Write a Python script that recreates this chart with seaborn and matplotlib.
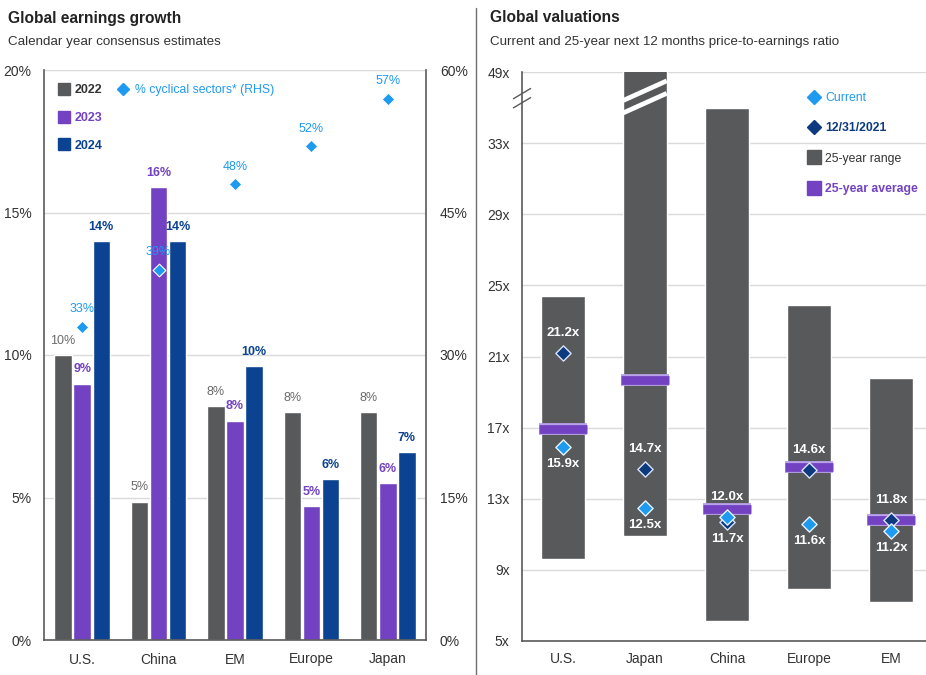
import numpy as np
import pandas as pd
import matplotlib
matplotlib.use("Agg")
import matplotlib.pyplot as plt
from matplotlib.lines import Line2D
import seaborn as sns

# ---------------- data ----------------
# Global earnings growth, calendar-year consensus estimates (%)
eg_regions = ["U.S.", "China", "EM", "Europe", "Japan"]
eg_years = ["2022", "2023", "2024"]
growth_2022 = [10.0, 4.85, 8.2, 8.0, 8.0]
growth_2023 = [9.0, 15.9, 7.7, 4.7, 5.5]
growth_2024 = [14.0, 14.0, 9.6, 5.65, 6.6]
cyclical_share = [33, 39, 48, 52, 57]          # % cyclical sectors (RHS)
eg_left_ticks = [0, 5, 10, 15, 20]
eg_right_ticks = [0, 15, 30, 45, 60]

# Global valuations, next-12-months P/E
pe_regions = ["U.S.", "Japan", "China", "Europe", "EM"]
pe_current = [15.9, 12.5, 12.0, 11.6, 11.2]
pe_dec2021 = [21.2, 14.7, 11.7, 14.6, 11.8]
pe_average = [16.9, 19.7, 12.4, 14.8, 11.8]
pe_low = [9.6, 10.9, 6.1, 7.9, 7.2]
pe_high = [24.4, 49.0, 35.0, 23.9, 19.8]
pe_tick_labels = ["5x", "9x", "13x", "17x", "21x", "25x", "29x", "33x", "49x"]
pe_tick_pos = [5, 9, 13, 17, 21, 25, 29, 33, 37]   # axis is broken above 33x
PE_AXIS_TOP = 37

# ---------------- style ----------------
GRAY = "#58595b"
PURPLE = "#7242c2"
LAVENDER = "#b9a2ea"
NAVY = "#0b4291"
DIAMOND_NAVY = "#0d3a7e"
LBLUE = "#1e9af0"
LABEL_GRAY = "#6a6a6a"
GRID = "#dadada"
SPINE = "#5a5a5a"
TEXT = "#333333"

sns.set_theme(style="white")
plt.rcParams["font.family"] = ["Liberation Sans Narrow", "Liberation Sans", "DejaVu Sans"]
plt.rcParams["text.color"] = TEXT

W, H = 926, 675
fig = plt.figure(figsize=(W / 100, H / 100), dpi=100)
fig.patch.set_facecolor("white")


def fx(px):
    return px / W


def fy(py):
    return 1 - py / H


# ================= left panel: earnings growth =================
ax1 = fig.add_axes([fx(44), fy(640), fx(426) - fx(44), fy(70) - fy(640)])

df = pd.DataFrame({
    "region": eg_regions * 3,
    "year": [y for y in eg_years for _ in eg_regions],
    "growth": growth_2022 + growth_2023 + growth_2024,
})
sns.barplot(data=df, x="region", y="growth", hue="year",
            palette=[GRAY, PURPLE, NAVY], width=0.75, gap=0.08,
            saturation=1, errorbar=None, legend=False, ax=ax1, zorder=2)

label_styles = [(LABEL_GRAY, "normal"), (PURPLE, "bold"), (NAVY, "bold")]
for cont, vals, (col, wt) in zip(ax1.containers,
                                 [growth_2022, growth_2023, growth_2024],
                                 label_styles):
    ax1.bar_label(cont, labels=[f"{v:.0f}%" for v in vals], padding=6,
                  color=col, fontsize=9, fontweight=wt)

ax1.set_ylim(0, 20)
ax1.set_yticks(eg_left_ticks)
ax1.set_yticklabels([f"{t}%" for t in eg_left_ticks])
ax1.yaxis.grid(True, color=GRID, lw=1)
ax1.set_axisbelow(True)
ax1.set_xlim(-0.5, len(eg_regions) - 0.5)
ax1.set_xticks(np.arange(-0.5, len(eg_regions), 1))
ax1.set_xticklabels([])
ax1.set_xticks(np.arange(len(eg_regions)), minor=True)
ax1.set_xticklabels(eg_regions, minor=True)
ax1.tick_params(axis="x", which="major", length=5, width=1, color=SPINE, direction="out")
ax1.tick_params(axis="x", which="minor", length=0, pad=9, labelsize=10, labelcolor=TEXT)
ax1.tick_params(axis="y", length=0, pad=9, labelsize=10, labelcolor=TEXT)
ax1.set_xlabel("")
ax1.set_ylabel("")
for side in ["left", "right", "bottom"]:
    ax1.spines[side].set_color(SPINE)
    ax1.spines[side].set_linewidth(1.2)
ax1.spines["top"].set_visible(False)

ax1r = ax1.twinx()
ax1r.set_ylim(0, 60)
ax1r.set_yticks(eg_right_ticks)
ax1r.set_yticklabels([f"{t}%" for t in eg_right_ticks])
ax1r.tick_params(axis="y", length=0, pad=10, labelsize=10, labelcolor=TEXT)
for side in ["left", "right", "bottom", "top"]:
    ax1r.spines[side].set_visible(False)
xs_eg = np.arange(len(eg_regions))
sns.scatterplot(x=xs_eg, y=cyclical_share, marker="D", s=42, color=LBLUE,
                edgecolor="white", linewidth=0.8, ax=ax1r, zorder=5, legend=False)
for x, v in zip(xs_eg, cyclical_share):
    ax1r.annotate(f"{v}%", (x, v), xytext=(0, 8), textcoords="offset points",
                  ha="center", va="bottom", color=LBLUE, fontsize=9)
ax1r.set_xlim(-0.5, len(eg_regions) - 0.5)

year_handles = [Line2D([], [], ls="none", marker="s", markersize=9, color=c, label=y)
                for c, y in zip([GRAY, PURPLE, NAVY], eg_years)]
leg_years = fig.legend(handles=year_handles, loc="upper left",
                       bbox_to_anchor=(fx(58), fy(84)), frameon=False,
                       fontsize=9, handlelength=0.9, handletextpad=0.45,
                       labelspacing=1.27, borderaxespad=0, borderpad=0)
for t, c in zip(leg_years.get_texts(), [TEXT, PURPLE, NAVY]):
    t.set_color(c)
    t.set_fontweight("bold")
cyc_handle = [Line2D([], [], ls="none", marker="D", markersize=6.5, color=LBLUE,
                     label="% cyclical sectors* (RHS)")]
leg_cyc = fig.legend(handles=cyc_handle, loc="upper left",
                     bbox_to_anchor=(fx(117), fy(84)), frameon=False,
                     fontsize=8.8, handlelength=0.9, handletextpad=0.55,
                     borderaxespad=0, borderpad=0, labelcolor=LBLUE)

# ================= right panel: valuations =================
ax2 = fig.add_axes([fx(522), fy(641), 410 / W, fy(72) - fy(641)])
xs_pe = np.arange(len(pe_regions))
bar_w = 0.53
lo = np.array(pe_low)
hi = np.array(pe_high)
ax2.bar(xs_pe, hi - lo, bottom=lo, width=bar_w, color=GRAY, zorder=2)

ax2.hlines(pe_average, xs_pe - 0.295, xs_pe + 0.295, colors=LAVENDER, lw=8.5,
           capstyle="butt", zorder=3)
ax2.hlines(pe_average, xs_pe - 0.29, xs_pe + 0.29, colors=PURPLE, lw=6.3,
           capstyle="butt", zorder=4)

sns.scatterplot(x=xs_pe, y=pe_dec2021, marker="D", s=60, color=DIAMOND_NAVY,
                edgecolor="#d8e4f6", linewidth=1.0, ax=ax2, zorder=5, legend=False)
sns.scatterplot(x=xs_pe, y=pe_current, marker="D", s=60, color=LBLUE,
                edgecolor="#e8f4ff", linewidth=1.0, ax=ax2, zorder=6, legend=False)

for x, cur, old in zip(xs_pe, pe_current, pe_dec2021):
    top, bot = max(cur, old), min(cur, old)
    ax2.annotate(f"{top:.1f}x", (x, top), xytext=(0, 10), textcoords="offset points",
                 ha="center", va="bottom", color="white", fontsize=9.5,
                 fontweight="bold", zorder=7)
    ax2.annotate(f"{bot:.1f}x", (x, bot), xytext=(0, -8), textcoords="offset points",
                 ha="center", va="top", color="white", fontsize=9.5,
                 fontweight="bold", zorder=7)

ax2.set_ylim(5, PE_AXIS_TOP)
ax2.set_yticks(pe_tick_pos)
ax2.set_yticklabels(pe_tick_labels)
ax2.yaxis.grid(True, color=GRID, lw=1)
ax2.set_axisbelow(True)
ax2.set_xlim(-0.5, len(pe_regions) - 0.5)
ax2.set_xticks(np.arange(-0.5, len(pe_regions), 1))
ax2.set_xticklabels([])
ax2.set_xticks(xs_pe, minor=True)
ax2.set_xticklabels(pe_regions, minor=True)
ax2.tick_params(axis="x", which="major", length=5, width=1, color=SPINE, direction="out")
ax2.tick_params(axis="x", which="minor", length=0, pad=8, labelsize=10, labelcolor=TEXT)
ax2.tick_params(axis="y", length=0, pad=9, labelsize=10, labelcolor=TEXT)
for side in ["left", "bottom"]:
    ax2.spines[side].set_color(SPINE)
    ax2.spines[side].set_linewidth(1.2)
ax2.spines["top"].set_visible(False)
ax2.spines["right"].set_visible(False)

# break marks: across the tall Japan bar and on the y axis
j = pe_regions.index("Japan")
for y0 in (34.7, 35.4):
    ax2.plot([j - bar_w / 2, j + bar_w / 2], [y0, y0 + 1.1], color="white",
             lw=3.4, solid_capstyle="butt", zorder=3)
ytr = ax2.transAxes
ya = 0.954
for dy in (-0.008, 0.008):
    ax2.plot([-0.021, 0.021], [ya + dy - 0.009, ya + dy + 0.009], color=SPINE,
             lw=1, transform=ytr, clip_on=False, zorder=9)

val_handles = [
    Line2D([], [], ls="none", marker="D", markersize=7, color=LBLUE, label="Current"),
    Line2D([], [], ls="none", marker="D", markersize=7, color=DIAMOND_NAVY, label="12/31/2021"),
    Line2D([], [], ls="none", marker="s", markersize=9.5, color=GRAY, label="25-year range"),
    Line2D([], [], ls="none", marker="s", markersize=9.5, color=PURPLE, label="25-year average"),
]
leg_val = fig.legend(handles=val_handles, loc="upper left",
                     bbox_to_anchor=(fx(808), fy(92)), frameon=False,
                     fontsize=8.8, handlelength=1.0, handletextpad=0.4,
                     labelspacing=1.5, borderaxespad=0, borderpad=0)
for t, c, wt in zip(leg_val.get_texts(), [LBLUE, DIAMOND_NAVY, TEXT, PURPLE],
                    ["normal", "bold", "normal", "bold"]):
    t.set_color(c)
    t.set_fontweight(wt)

# ================= titles and divider =================
fig.text(fx(8), fy(18), "Global earnings growth", fontsize=11.2, fontweight="bold",
         va="center", ha="left", color="#222222")
fig.text(fx(8), fy(42), "Calendar year consensus estimates", fontsize=9.6,
         va="center", ha="left", color=TEXT)
fig.text(fx(490), fy(18), "Global valuations", fontsize=11.2, fontweight="bold",
         va="center", ha="left", color="#222222")
fig.text(fx(490), fy(42), "Current and 25-year next 12 months price-to-earnings ratio",
         fontsize=9.6, va="center", ha="left", color=TEXT)
fig.add_artist(Line2D([fx(476), fx(476)], [0, fy(8)], color="#6f6f6f", lw=1))

fig.savefig("out.png", dpi=100, facecolor="white")
